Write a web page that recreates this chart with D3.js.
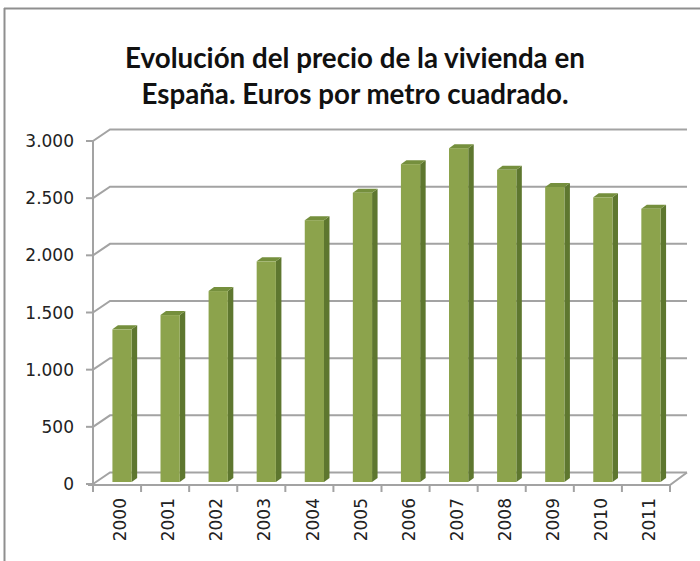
<!DOCTYPE html>
<html>
<head>
<meta charset="utf-8">
<script src="https://cdn.jsdelivr.net/npm/d3@7/dist/d3.min.js"></script>
<style>
  html, body { margin: 0; padding: 0; background: #fff; }
  svg { display: block; }
</style>
</head>
<body>
<svg id="chart" width="700" height="561"></svg>
<script>
// Precio medio de la vivienda en España (€/m²)
const years = ["2000", "2001", "2002", "2003", "2004", "2005", "2006", "2007", "2008", "2009", "2010", "2011"];
const prices = [1335, 1460, 1670, 1930, 2290, 2530, 2780, 2920, 2730, 2580, 2490, 2390];
const yTickValues = [0, 500, 1000, 1500, 2000, 2500, 3000];
const yTickLabels = ["0", "500", "1.000", "1.500", "2.000", "2.500", "3.000"];
const titleLines = ["Evolución del precio de la vivienda en", "España. Euros por metro cuadrado."];

const svg = d3.select("#chart");
const W = 700, H = 561;

// 3D wall depth (front axis plane -> back wall)
const depth = { dx: 17, dy: -11.5 };
// bar placement inside the depth and the bar's own thickness
const barShift = { dx: 5, dy: -2 };
const barSide = { dx: 5.5, dy: -4 };

const x = d3.scaleBand().domain(years).range([93, 670]).paddingInner(0.6).paddingOuter(0.3);
const y = d3.scaleLinear().domain([0, 3000]).range([484, 141]);

const gridColor = "#a3a3a3";

// outer chart frame
svg.append("line").attr("x1", 4).attr("x2", W).attr("y1", 8.5).attr("y2", 8.5)
  .attr("stroke", "#8f8f8f").attr("stroke-width", 2);
svg.append("line").attr("x1", 4.5).attr("x2", 4.5).attr("y1", 8).attr("y2", H)
  .attr("stroke", "#8f8f8f").attr("stroke-width", 2);

// title
const title = svg.append("text")
  .attr("x", 355).attr("text-anchor", "middle")
  .attr("font-family", "Lato, 'Open Sans', sans-serif")
  .attr("font-weight", 700).attr("font-size", 22).attr("fill", "#111");
title.selectAll("tspan").data(titleLines).join("tspan")
  .attr("x", 355).attr("y", (d, i) => 68 + i * 36).text(d => d);
// fit the first line to its width
const l1 = title.select("tspan").node().getComputedTextLength();
title.attr("font-size", 22 * 460 / l1);

// back wall gridlines with diagonal connectors on the side wall
const grid = svg.append("g").attr("stroke", gridColor).attr("stroke-width", 2).attr("fill", "none");
const xFront = 93, xEnd = 670;
grid.selectAll("path.grid").data(yTickValues).join("path").attr("class", "grid")
  .attr("d", v => `M${xFront},${y(v)} L${xFront + depth.dx},${y(v) + depth.dy} L${xEnd + depth.dx},${y(v) + depth.dy}`);

// floor: front edge and right edge
grid.append("path")
  .attr("d", `M${xFront - 5},${y(0) + 1} L${xEnd},${y(0) + 1} L${xEnd + depth.dx},${y(0) + depth.dy}`);

// vertical value axis with ticks
grid.append("line").attr("x1", xFront).attr("x2", xFront).attr("y1", y(3000)).attr("y2", y(0) + 1);
grid.selectAll("line.ytick").data(yTickValues).join("line").attr("class", "ytick")
  .attr("x1", xFront - 7).attr("x2", xFront).attr("y1", v => y(v)).attr("y2", v => y(v));

// category ticks along the front floor edge
const step = x.step();
const bounds = d3.range(years.length + 1).map(i => xFront + i * step);
grid.selectAll("line.xtick").data(bounds).join("line").attr("class", "xtick")
  .attr("x1", d => d).attr("x2", d => d).attr("y1", y(0) + 1).attr("y2", y(0) + 8);

// value labels
svg.append("g").selectAll("text").data(yTickValues).join("text")
  .attr("x", 74).attr("y", v => y(v)).attr("dy", "0.36em")
  .attr("text-anchor", "end")
  .attr("font-family", "'DejaVu Sans', Verdana, sans-serif")
  .attr("font-size", 17).attr("fill", "#222")
  .text((v, i) => yTickLabels[i]);

// year labels, rotated
svg.append("g").selectAll("text").data(years).join("text")
  .attr("transform", d => `translate(${x(d) + x.bandwidth() / 2 + 3},${y(0) + 14}) rotate(-90)`)
  .attr("text-anchor", "end").attr("dy", "0.36em")
  .attr("font-family", "'DejaVu Sans', Verdana, sans-serif")
  .attr("font-size", 17).attr("fill", "#222")
  .text(d => d);

// 3D columns
const bars = svg.append("g").selectAll("g").data(years.map((d, i) => ({ year: d, value: prices[i] }))).join("g");
const bw = x.bandwidth();
bars.each(function (d) {
  const g = d3.select(this);
  const x0 = x(d.year) + barShift.dx;
  const x1 = x0 + bw;
  const yb = y(0) + barShift.dy;
  const yt = y(d.value) + barShift.dy;
  // side face
  g.append("path")
    .attr("d", `M${x1},${yb} L${x1 + barSide.dx},${yb + barSide.dy} L${x1 + barSide.dx},${yt + barSide.dy} L${x1},${yt} Z`)
    .attr("fill", "#5e772f");
  // top face
  g.append("path")
    .attr("d", `M${x0},${yt} L${x0 + barSide.dx},${yt + barSide.dy} L${x1 + barSide.dx},${yt + barSide.dy} L${x1},${yt} Z`)
    .attr("fill", "#758f3d");
  // front face
  g.append("rect")
    .attr("x", x0).attr("y", yt).attr("width", bw).attr("height", yb - yt)
    .attr("fill", "#8ca34c");
});
</script>
</body>
</html>
